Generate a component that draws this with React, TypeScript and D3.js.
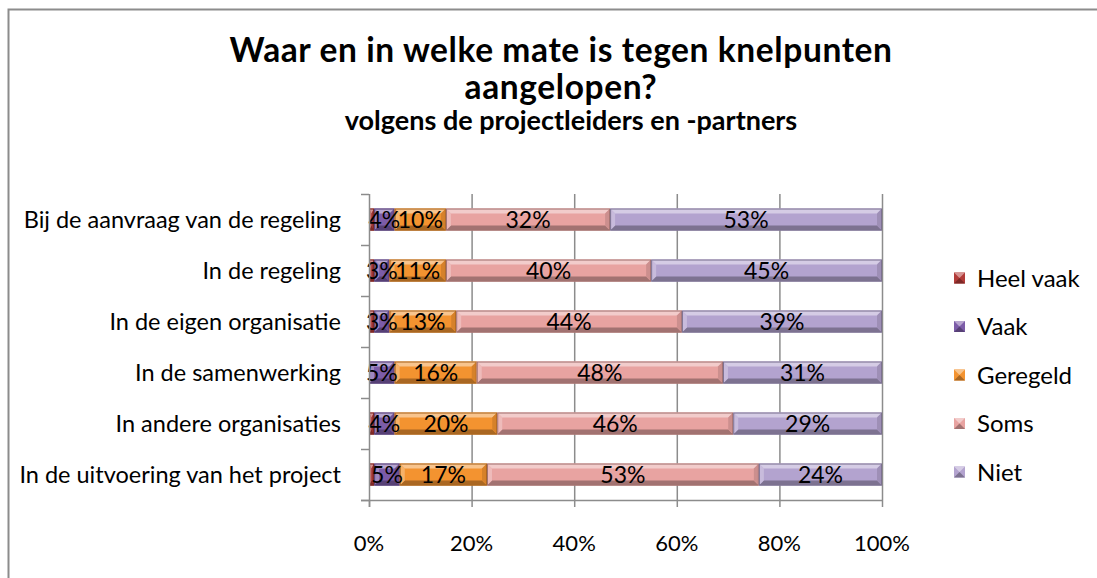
import React, { useRef, useEffect } from 'react';
import * as d3 from 'd3';

const categories = [
  'Bij de aanvraag van de regeling',
  'In de regeling',
  'In de eigen organisatie',
  'In de samenwerking',
  'In andere organisaties',
  'In de uitvoering van het project',
];
const seriesNames = ['Heel vaak', 'Vaak', 'Geregeld', 'Soms', 'Niet'];
const heelVaak = [1, 1, 1, 0, 1, 1];
const vaak = [4, 3, 3, 5, 4, 5];
const geregeld = [10, 11, 13, 16, 20, 17];
const soms = [32, 40, 44, 48, 46, 53];
const niet = [53, 45, 39, 31, 29, 24];
const showLabel = [false, true, true, true, true];
const xTicks = [0, 0.2, 0.4, 0.6, 0.8, 1];
const colors = ['#B23B38', '#7C5CA8', '#F39330', '#E8A3A1', '#B3A3CF'];

const App = () => {
  const svgRef = useRef(null);
  const width = 1097, height = 578;
  const margin = { top: 194, right: 215, bottom: 78, left: 369 };

  useEffect(() => {
    const svg = d3.select(svgRef.current);
    svg.selectAll('*').remove();
    const font = 'Lato, "Open Sans", sans-serif';

    const seriesVals = [heelVaak, vaak, geregeld, soms, niet];
    const rows = categories.map((c, i) => {
      const o: any = { cat: c };
      seriesNames.forEach((s, k) => (o[s] = seriesVals[k][i]));
      return o;
    });
    // normalise each row to 100%
    const stack = d3.stack().keys(seriesNames).offset(d3.stackOffsetExpand)(rows as any);

    const x = d3.scaleLinear().domain([0, 1]).range([margin.left, width - margin.right]);
    const y = d3.scaleBand().domain(categories)
      .range([margin.top, height - margin.bottom])
      .paddingInner(0.57).paddingOuter(0.285);

    // chart border
    svg.append('path')
      .attr('d', `M8.5,${height} V9.5 H${width}`)
      .attr('fill', 'none').attr('stroke', '#8c8c8c').attr('stroke-width', 2);

    // title
    const title = svg.append('g').attr('font-family', font).attr('font-weight', 'bold')
      .attr('text-anchor', 'middle').attr('fill', '#000');
    title.append('text').attr('x', 561).attr('y', 62).attr('font-size', 33.5)
      .attr('letter-spacing', 0.6)
      .text('Waar en in welke mate is tegen knelpunten');
    title.append('text').attr('x', 561).attr('y', 99).attr('font-size', 33.5)
      .attr('letter-spacing', 0.6)
      .text('aangelopen?');
    title.append('text').attr('x', 571).attr('y', 130).attr('font-size', 27)
      .text('volgens de projectleiders en -partners');

    // gridlines
    svg.append('g').selectAll('line').data(xTicks.slice(1)).join('line')
      .attr('x1', d => x(d) + 0.5).attr('x2', d => x(d) + 0.5)
      .attr('y1', margin.top).attr('y2', height - margin.bottom)
      .attr('stroke', '#8c8c8c').attr('stroke-width', 1.5);

    // bars with a bevel look
    const bevel = 5;
    const seg = svg.append('g');
    stack.forEach((layer, k) => {
      const base = d3.color(colors[k]) as any;
      const light = d3.interpolateRgb(colors[k], '#ffffff')(0.45);
      const dark = d3.interpolateRgb(colors[k], '#000000')(0.3);
      const mid = d3.interpolateRgb(colors[k], '#000000')(0.12);
      layer.forEach((d: any, i: number) => {
        const x0 = x(d[0]), x1 = x(d[1]);
        const y0 = y(categories[i]) as number, h = y.bandwidth();
        const w = x1 - x0;
        if (w <= 0) return;
        const g = seg.append('g');
        const b = Math.min(bevel, w / 2);
        g.append('rect').attr('x', x0).attr('y', y0).attr('width', w).attr('height', h)
          .attr('fill', base.toString());
        g.append('polygon').attr('fill', light)
          .attr('points', `${x0},${y0} ${x1},${y0} ${x1 - b},${y0 + bevel} ${x0 + b},${y0 + bevel}`);
        g.append('polygon').attr('fill', dark)
          .attr('points', `${x0},${y0 + h} ${x1},${y0 + h} ${x1 - b},${y0 + h - bevel} ${x0 + b},${y0 + h - bevel}`);
        g.append('polygon').attr('fill', light).attr('opacity', 0.6)
          .attr('points', `${x0},${y0} ${x0 + b},${y0 + bevel} ${x0 + b},${y0 + h - bevel} ${x0},${y0 + h}`);
        g.append('polygon').attr('fill', mid)
          .attr('points', `${x1},${y0} ${x1 - b},${y0 + bevel} ${x1 - b},${y0 + h - bevel} ${x1},${y0 + h}`);
        g.append('rect').attr('x', x0 + 0.5).attr('y', y0 + 0.5).attr('width', Math.max(w - 1, 0)).attr('height', h - 1)
          .attr('fill', 'none').attr('stroke', dark).attr('stroke-width', 1);
      });
    });

    // data labels
    const labels = svg.append('g').attr('font-family', font).attr('font-size', 23)
      .attr('text-anchor', 'middle').attr('fill', '#000');
    stack.forEach((layer, k) => {
      if (!showLabel[k]) return;
      layer.forEach((d: any, i: number) => {
        const v = seriesVals[k][i];
        if (!v) return;
        labels.append('text')
          .attr('x', (x(d[0]) + x(d[1])) / 2)
          .attr('y', (y(categories[i]) as number) + y.bandwidth() / 2)
          .attr('dy', '0.36em')
          .text(v + '%');
      });
    });

    // axes
    const axisColor = '#8c8c8c';
    const yAxis = svg.append('g');
    yAxis.append('line').attr('x1', margin.left + 0.5).attr('x2', margin.left + 0.5)
      .attr('y1', margin.top).attr('y2', height - margin.bottom + 7)
      .attr('stroke', axisColor).attr('stroke-width', 1.5);
    const bounds = d3.range(categories.length + 1).map(i => margin.top + i * y.step());
    yAxis.selectAll('line.tick').data(bounds).join('line').attr('class', 'tick')
      .attr('x1', margin.left - 8).attr('x2', margin.left)
      .attr('y1', d => d + 0.5).attr('y2', d => d + 0.5)
      .attr('stroke', axisColor).attr('stroke-width', 1.5);
    yAxis.selectAll('text').data(categories).join('text')
      .attr('x', 341).attr('y', d => (y(d) as number) + y.bandwidth() / 2)
      .attr('dy', '0.36em').attr('text-anchor', 'end')
      .attr('font-family', font).attr('font-size', 23.5).text(d => d);

    const xAxis = svg.append('g');
    xAxis.append('line').attr('x1', margin.left - 8).attr('x2', x(1))
      .attr('y1', height - margin.bottom + 0.5).attr('y2', height - margin.bottom + 0.5)
      .attr('stroke', axisColor).attr('stroke-width', 1.5);
    xAxis.selectAll('line.tick').data(xTicks).join('line').attr('class', 'tick')
      .attr('x1', d => x(d) + 0.5).attr('x2', d => x(d) + 0.5)
      .attr('y1', height - margin.bottom).attr('y2', height - margin.bottom + 7)
      .attr('stroke', axisColor).attr('stroke-width', 1.5);
    xAxis.selectAll('text').data(xTicks).join('text')
      .attr('x', d => x(d)).attr('y', 543).attr('dy', '0.36em')
      .attr('text-anchor', 'middle').attr('font-family', font).attr('font-size', 22)
      .text(d => d3.format('.0%')(d));

    // legend
    const legend = svg.append('g').attr('font-family', font).attr('font-size', 24);
    seriesNames.forEach((s, k) => {
      const ly = 278 + k * 48.5;
      const c = colors[k];
      const sq = 11;
      const lx = 954;
      legend.append('rect').attr('x', lx).attr('y', ly - sq / 2).attr('width', sq).attr('height', sq)
        .attr('fill', c);
      legend.append('polygon').attr('fill', d3.interpolateRgb(c, '#ffffff')(0.45))
        .attr('points', `${lx},${ly - sq / 2} ${lx + sq},${ly - sq / 2} ${lx + sq / 2},${ly}`);
      legend.append('polygon').attr('fill', d3.interpolateRgb(c, '#000000')(0.3))
        .attr('points', `${lx},${ly + sq / 2} ${lx + sq},${ly + sq / 2} ${lx + sq / 2},${ly}`);
      legend.append('text').attr('x', 977).attr('y', ly).attr('dy', '0.36em').text(s);
    });
  }, []);

  return (
    <svg ref={svgRef} width={width} height={height}
      style={{ position: 'absolute', left: 0, top: 0, background: '#fff', display: 'block' }} />
  );
};

export default App;
